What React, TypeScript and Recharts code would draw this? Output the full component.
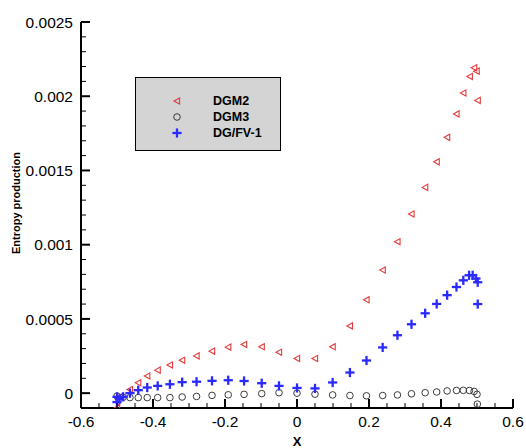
import React from 'react';
import { ScatterChart, Scatter, XAxis, YAxis, Legend } from 'recharts';

const FONT = '"Liberation Sans", Arial, Helvetica, sans-serif';

const seriesNames = ['DGM2', 'DGM3', 'DG/FV-1'];

const dgm2X = [-0.5, -0.5, -0.49, -0.464, -0.441, -0.416, -0.387, -0.353, -0.319, -0.279, -0.236, -0.191, -0.147, -0.098, -0.05, 0, 0.05, 0.099, 0.147, 0.193, 0.238, 0.279, 0.318, 0.356, 0.388, 0.417, 0.443, 0.462, 0.48, 0.492, 0.499, 0.502];
const dgm2Y = [-0.0001, -0.00006, -0.00002, 0.000025, 0.00007, 0.000116, 0.000155, 0.00019, 0.000222, 0.000251, 0.000283, 0.00031, 0.000328, 0.000312, 0.000276, 0.000234, 0.000234, 0.000312, 0.000453, 0.000629, 0.000829, 0.00102, 0.001207, 0.001386, 0.001558, 0.001723, 0.001881, 0.002022, 0.002133, 0.002192, 0.002169, 0.001972];

const dgm3X = [-0.5, -0.483, -0.464, -0.441, -0.416, -0.387, -0.353, -0.319, -0.279, -0.236, -0.191, -0.147, -0.098, -0.05, 0, 0.05, 0.099, 0.147, 0.193, 0.238, 0.279, 0.318, 0.356, 0.388, 0.417, 0.443, 0.462, 0.479, 0.492, 0.5, 0.501];
const dgm3Y = [-0.00002, -0.000028, -0.00003, -0.00003, -0.00003, -0.00003, -0.00003, -0.000026, -0.000022, -0.000015, -0.000011, -0.000008, -0.000003, 0.000003, 0.0, -0.000007, -0.000012, -0.000016, -0.000018, -0.000016, -0.000012, -0.000004, 0.000003, 0.000008, 0.000015, 0.000018, 0.000019, 0.000018, 0.000012, -0.000008, -0.000074];

const dgfvX = [-0.5, -0.5, -0.493, -0.483, -0.464, -0.441, -0.416, -0.387, -0.353, -0.319, -0.279, -0.236, -0.191, -0.147, -0.098, -0.05, 0, 0.05, 0.099, 0.147, 0.193, 0.238, 0.279, 0.318, 0.356, 0.388, 0.417, 0.443, 0.462, 0.478, 0.488, 0.497, 0.502, 0.502];
const dgfvY = [-0.000025, -0.00006, -0.00004, -0.000025, 0.0, 0.00002, 0.000038, 0.000049, 0.00006, 0.000074, 0.000077, 0.000083, 0.000087, 0.000082, 0.000067, 0.000049, 0.000035, 0.000032, 0.000072, 0.000139, 0.00022, 0.000308, 0.00039, 0.000464, 0.000538, 0.000601, 0.00066, 0.000715, 0.00076, 0.000794, 0.000794, 0.000772, 0.000747, 0.0006];

const xTicks = [-0.6, -0.55, -0.5, -0.45, -0.4, -0.35, -0.3, -0.25, -0.2, -0.15, -0.1, -0.05, 0, 0.05, 0.1, 0.15, 0.2, 0.25, 0.3, 0.35, 0.4, 0.45, 0.5, 0.55, 0.6];
const xMajorLabels = ['-0.6', '-0.4', '-0.2', '0', '0.2', '0.4', '0.6'];
const yTicks = [-0.0001, 0, 0.0001, 0.0002, 0.0003, 0.0004, 0.0005, 0.0006, 0.0007, 0.0008, 0.0009, 0.001, 0.0011, 0.0012, 0.0013, 0.0014, 0.0015, 0.0016, 0.0017, 0.0018, 0.0019, 0.002, 0.0021, 0.0022, 0.0023, 0.0024, 0.0025];
const yMajorLabels = ['0', '0.0005', '0.001', '0.0015', '0.002', '0.0025'];

const toData = (xs: number[], ys: number[]) => xs.map((x, i) => ({ x, y: ys[i] }));
const dgm2Data = toData(dgm2X, dgm2Y);
const dgm3Data = toData(dgm3X, dgm3Y);
const dgfvData = toData(dgfvX, dgfvY);

const isMajorX = (v: number) => Math.abs(v * 5 - Math.round(v * 5)) < 1e-9;
const isMajorY = (v: number) => Math.abs(v / 0.0005 - Math.round(v / 0.0005)) < 1e-6;
const labelX = (v: number) => xMajorLabels[Math.round((v + 0.6) * 5)];
const labelY = (v: number) => yMajorLabels[Math.round(v / 0.0005)];

const TriMark = ({ cx, cy }: any) => (
  <polygon
    points={`${cx - 3},${cy} ${cx + 2.6},${cy - 3.1} ${cx + 2.6},${cy + 3.1}`}
    fill="none"
    stroke="#e23c3c"
    strokeWidth={1.1}
  />
);
const CircMark = ({ cx, cy }: any) => (
  <circle cx={cx} cy={cy} r={3.3} fill="none" stroke="#3c3c3c" strokeWidth={1} />
);
const PlusMark = ({ cx, cy }: any) => (
  <g stroke="#2a2aff" strokeWidth={2.3}>
    <line x1={cx - 4.6} x2={cx + 4.6} y1={cy} y2={cy} />
    <line x1={cx} x2={cx} y1={cy - 4.6} y2={cy + 4.6} />
  </g>
);
const markers: Record<string, any> = { DGM2: TriMark, DGM3: CircMark, 'DG/FV-1': PlusMark };

const YTick = (props: any) => {
  const { x, y, payload } = props;
  const v = payload.value;
  const major = isMajorY(v);
  return (
    <g>
      <line x1={x} x2={x + (major ? 9 : 5)} y1={y} y2={y} stroke="#000" strokeWidth={major ? 2 : 1} />
      {major && (
        <text x={x - 8} y={y} dy={5.6} textAnchor="end" fontSize={15.5} fontFamily={FONT} fill="#000">
          {labelY(v)}
        </text>
      )}
    </g>
  );
};

const XTick = (props: any) => {
  const { x, y, payload } = props;
  const v = payload.value;
  const major = isMajorX(v);
  return (
    <g>
      <line x1={x} x2={x} y1={y} y2={y - (major ? 9 : 5)} stroke="#000" strokeWidth={major ? 2 : 1} />
      {major && (
        <text x={x} y={y + 19} textAnchor="middle" fontSize={15.5} fontFamily={FONT} fill="#000">
          {labelX(v)}
        </text>
      )}
    </g>
  );
};

const renderLegend = (props: any) => {
  const items = [...(props.payload || [])].sort(
    (a: any, b: any) => seriesNames.indexOf(a.value) - seriesNames.indexOf(b.value)
  );
  return (
    <div
      style={{
        width: 146,
        height: 74,
        background: '#d4d4d4',
        border: '1px solid #000',
        boxSizing: 'border-box',
        position: 'relative',
        fontFamily: FONT,
        fontWeight: 700,
        fontSize: 12.5,
        color: '#000',
      }}
    >
      {items.map((it: any, i: number) => {
        const M = markers[it.value];
        return (
          <div key={i} style={{ position: 'absolute', left: 0, top: 16 + i * 16, height: 14, display: 'flex', alignItems: 'center' }}>
            <svg width={77} height={14} style={{ display: 'block' }}>
              {M ? <M cx={41} cy={7} /> : null}
            </svg>
            <span style={{ lineHeight: '14px' }}>{it.value}</span>
          </div>
        );
      })}
    </div>
  );
};

export default function App() {
  return (
    <div style={{ position: 'absolute', left: 0, top: 0, background: '#fff' }}>
      <ScatterChart width={526} height={448} margin={{ top: 22, right: 13, bottom: 0, left: 0 }}>
        <XAxis
          type="number"
          dataKey="x"
          domain={[-0.6, 0.6]}
          ticks={xTicks}
          interval={0}
          allowDataOverflow
          height={40}
          tickSize={0}
          tickMargin={0}
          tickLine={false}
          axisLine={{ stroke: '#000', strokeWidth: 2 }}
          tick={<XTick />}
          label={{
            value: 'X',
            content: (p: any) => {
              const vb = p.viewBox;
              return (
                <text x={vb.x + vb.width / 2} y={vb.y + 38} textAnchor="middle" fontSize={13} fontWeight={700} fontFamily={FONT} fill="#000">
                  X
                </text>
              );
            },
          }}
        />
        <YAxis
          type="number"
          dataKey="y"
          domain={[-0.0001, 0.0025]}
          ticks={yTicks}
          interval={0}
          allowDataOverflow
          width={81}
          tickSize={0}
          tickMargin={0}
          tickLine={false}
          axisLine={{ stroke: '#000', strokeWidth: 2 }}
          tick={<YTick />}
          label={{
            value: 'Entropy production',
            content: (p: any) => {
              const vb = p.viewBox;
              const cx = vb.x + 20;
              const cy = vb.y + vb.height / 2 - 12;
              return (
                <text transform={`translate(${cx},${cy}) rotate(-90)`} textAnchor="middle" fontSize={11} fontWeight={700} fontFamily={FONT} fill="#000">
                  Entropy production
                </text>
              );
            },
          }}
        />
        <Legend
          layout="vertical"
          align="center"
          verticalAlign="middle"
          wrapperStyle={{ left: 135, top: 77, width: 146, height: 74 }}
          content={renderLegend}
        />
        <Scatter name={seriesNames[0]} data={dgm2Data} isAnimationActive={false} fill="#e23c3c" shape={(p: any) => <TriMark cx={p.cx} cy={p.cy} />} />
        <Scatter name={seriesNames[1]} data={dgm3Data} isAnimationActive={false} fill="#3c3c3c" shape={(p: any) => <CircMark cx={p.cx} cy={p.cy} />} />
        <Scatter name={seriesNames[2]} data={dgfvData} isAnimationActive={false} fill="#2a2aff" shape={(p: any) => <PlusMark cx={p.cx} cy={p.cy} />} />
      </ScatterChart>
    </div>
  );
}
